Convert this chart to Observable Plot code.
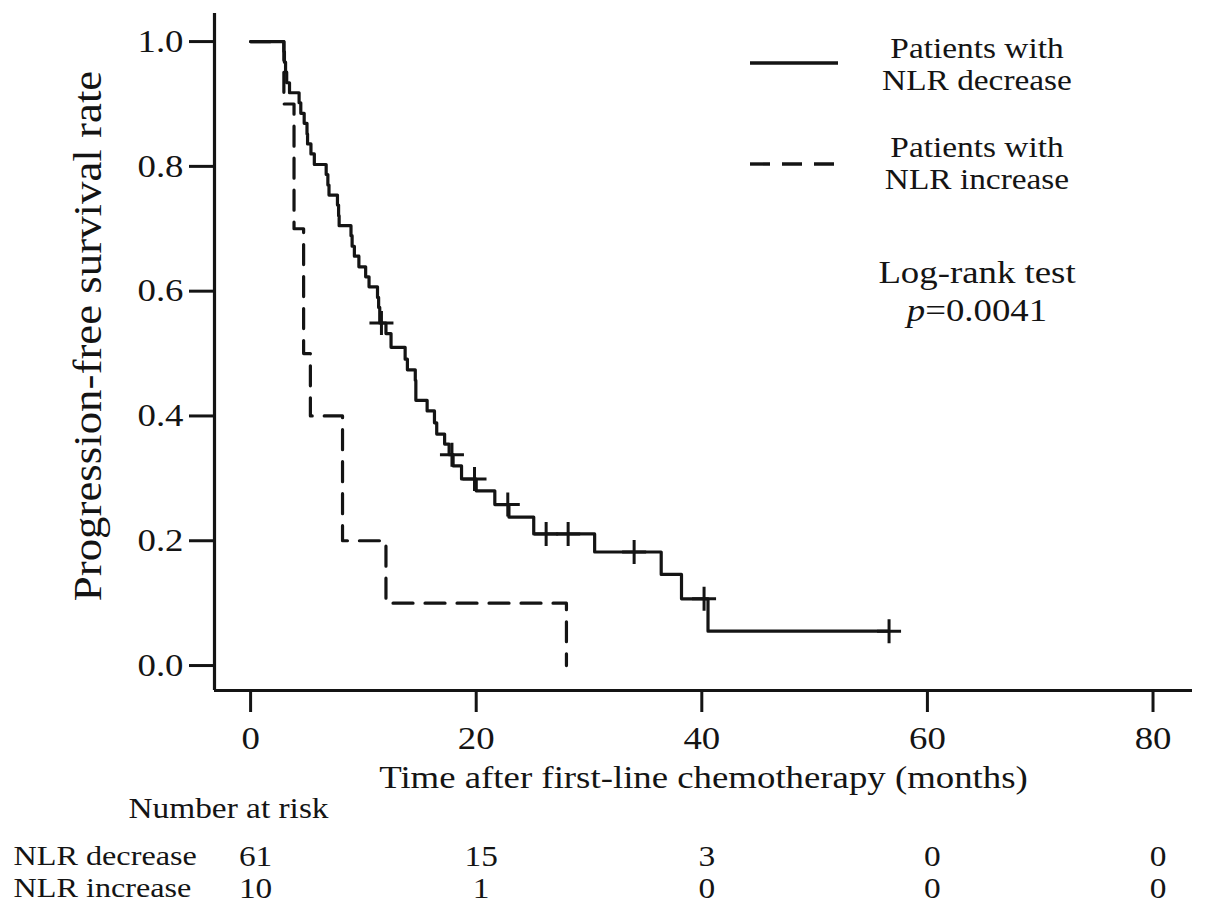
<!DOCTYPE html>
<html>
<head>
<meta charset="utf-8">
<script src="https://cdn.jsdelivr.net/npm/d3@7"></script>
<script src="https://cdn.jsdelivr.net/npm/@observablehq/plot@0.6"></script>
<style>
  body { margin: 0; background: #fff; }
  #fig { position: relative; width: 1205px; height: 919px; color: #141414;
         font-family: "Liberation Serif", "Times New Roman", serif; }
  .txt { position: absolute; width: 300px; text-align: center; transform: scaleX(1.15); }
  .swatch { position: absolute; }
</style>
</head>
<body>
<div id="fig"></div>
<script>
// PFS by NLR change, Kaplan-Meier steps

// NLR decrease: time (months) at which the curve drops, and the rate after it
const decTime = [0, 2.95, 3.0, 3.1, 3.2, 3.45, 4.3, 4.45, 4.75, 5.0, 5.05, 5.35, 5.65,
  6.7, 6.85, 6.95, 7.7, 7.8, 7.85, 8.9, 9.0, 9.2, 9.6, 10.2, 10.5, 11.25, 11.35, 11.45,
  12.0, 12.45, 13.7, 13.9, 14.6, 14.65, 15.65, 16.3, 16.5, 17.2, 17.6, 17.95, 18.7,
  20.0, 21.65, 22.9, 25.1, 30.5, 36.4, 38.2, 40.55, 56.6];
const decSurv = [1.0, 0.984, 0.967, 0.951, 0.934, 0.918, 0.902, 0.885, 0.869, 0.852, 0.836, 0.820, 0.803,
  0.787, 0.770, 0.754, 0.738, 0.721, 0.705, 0.689, 0.672, 0.656, 0.639, 0.623, 0.607, 0.590, 0.574, 0.549,
  0.532, 0.510, 0.491, 0.474, 0.457, 0.425, 0.408, 0.389, 0.371, 0.355, 0.338, 0.320, 0.299,
  0.280, 0.258, 0.238, 0.211, 0.182, 0.146, 0.107, 0.055, 0.055];
const decCensorTime = [11.6, 17.85, 19.85, 22.8, 26.2, 28.15, 34.0, 40.2, 56.6];
const decCensorSurv = [0.549, 0.338, 0.299, 0.258, 0.211, 0.211, 0.182, 0.107, 0.055];

// NLR increase
const incTime = [0, 2.95, 3.85, 4.7, 5.3, 8.15, 12.0, 28.0];
const incSurv = [1.0, 0.9, 0.7, 0.5, 0.4, 0.2, 0.1, 0.0];

const xTicks = [0, 20, 40, 60, 80];
const yTicks = [0, 0.2, 0.4, 0.6, 0.8, 1.0];

// number at risk
const groups = ["NLR decrease", "NLR increase"];
const riskTimes = [0, 20, 40, 60, 80];
const riskDec = [61, 15, 3, 0, 0];
const riskInc = [10, 1, 0, 0, 0];

const legendLabels = ["Patients with\nNLR decrease", "Patients with\nNLR increase"];
const xLabel = "Time after first-line chemotherapy (months)";
const yLabel = "Progression-free survival rate";
const riskTitle = "Number at risk";

const serif = '"Liberation Serif", "Times New Roman", serif';
const ink = "#141414";
const xDomain = [-3.2, 83.5];

const decData = decTime.map((t, i) => ({t, s: decSurv[i]}));
const incData = incTime.map((t, i) => ({t, s: incSurv[i]}));
const censorData = decCensorTime.map((t, i) => ({t, s: decCensorSurv[i]}));
const riskRows = riskTimes.flatMap((t, i) => [
  {t, g: groups[0], n: riskDec[i]},
  {t, g: groups[1], n: riskInc[i]}
]);

// "+" censor tick
const cross = {
  draw(ctx, size) {
    const r = Math.sqrt(size / Math.PI);
    ctx.moveTo(-r, 0); ctx.lineTo(r, 0);
    ctx.moveTo(0, -r); ctx.lineTo(0, r);
  }
};

const main = Plot.plot({
  width: 1205,
  height: 830,
  marginLeft: 214,
  marginRight: 13,
  marginTop: 13,
  marginBottom: 140,
  style: {fontFamily: serif, fontSize: "32px", background: "white", color: ink},
  x: {domain: xDomain},
  y: {domain: [-0.04, 1.045]},
  marks: [
    Plot.ruleX([xDomain[0]], {stroke: ink, strokeWidth: 3.2}),
    Plot.ruleY([-0.04], {stroke: ink, strokeWidth: 3.2}),
    Plot.axisY({ticks: yTicks, tickFormat: d3.format(".1f"), tickSize: 25, tickPadding: 6,
      fontSize: 32, strokeWidth: 3, label: null}),
    Plot.axisX({ticks: xTicks, tickSize: 22, tickPadding: 14, fontSize: 32, strokeWidth: 3, label: null}),
    Plot.line(incData, {x: "t", y: "s", curve: "step-after", stroke: ink, strokeWidth: 3.2,
      strokeDasharray: "20 12"}),
    Plot.line(decData, {x: "t", y: "s", curve: "step-after", stroke: ink, strokeWidth: 3.2}),
    Plot.dot(censorData, {x: "t", y: "s", symbol: cross, r: 12, stroke: ink, strokeWidth: 3, fill: "none"}),
    Plot.text([xLabel], {frameAnchor: "bottom", lineAnchor: "middle", dy: 87, fontSize: 32}),
    Plot.text([yLabel], {frameAnchor: "left", textAnchor: "middle", lineAnchor: "middle",
      rotate: -90, dx: -126, dy: -16, fontSize: 39}),
    Plot.text([riskTitle], {frameAnchor: "bottom-left", textAnchor: "middle", lineAnchor: "middle",
      dx: 14, dy: 118, fontSize: 29})
  ]
});

const risk = Plot.plot({
  width: 1205,
  height: 89,
  marginLeft: 214,
  marginRight: 13,
  marginTop: 0,
  marginBottom: 0,
  style: {fontFamily: serif, fontSize: "29px", background: "white", color: ink},
  x: {domain: xDomain, axis: null},
  y: {type: "band", domain: groups, range: [10, 74], padding: 0, axis: null},
  marks: [
    Plot.text(riskRows, {x: "t", y: "g", text: "n", fontSize: 29, dx: 5}),
    Plot.text(groups, {y: d => d, text: d => d, frameAnchor: "left", textAnchor: "start",
      dx: -201, fontSize: 28})
  ]
});

const fig = document.getElementById("fig");
fig.appendChild(main);
fig.appendChild(risk);
main.style.display = "block";
risk.style.display = "block";

// legend + test result, top right
const swatch = (top, dash) => {
  const s = document.createElementNS("http://www.w3.org/2000/svg", "svg");
  s.setAttribute("class", "swatch");
  s.setAttribute("width", 92);
  s.setAttribute("height", 10);
  s.style.left = "748px";
  s.style.top = top + "px";
  s.innerHTML = `<line x1="2" x2="90" y1="5" y2="5" stroke="${ink}" stroke-width="3.4"` +
    (dash ? ` stroke-dasharray="${dash}"` : "") + "/>";
  fig.appendChild(s);
};
const block = (text, top, size, lh) => {
  const d = document.createElement("div");
  d.className = "txt";
  d.style.left = (977 - 150) + "px";
  d.style.top = top + "px";
  d.style.fontSize = size + "px";
  d.style.lineHeight = lh + "px";
  d.innerHTML = text;
  fig.appendChild(d);
};
swatch(58, null);
swatch(159, "20 12");
block(legendLabels[0].replace("\n", "<br>"), 32, 29, 32);
block(legendLabels[1].replace("\n", "<br>"), 131, 29, 32);
block("Log-rank test<br><i>p</i>=0.0041", 253, 32, 38);

// widen svg text a bit, the source font runs wide
function widen(root, k) {
  root.querySelectorAll("text").forEach(t => {
    const parts = t.querySelectorAll("tspan");
    (parts.length ? Array.from(parts) : [t]).forEach(el => {
      const w = el.getComputedTextLength();
      if (w > 0) {
        el.setAttribute("textLength", (w * k).toFixed(1));
        el.setAttribute("lengthAdjust", "spacingAndGlyphs");
      }
    });
  });
}
widen(main, 1.15);
widen(risk, 1.15);
</script>
</body>
</html>
